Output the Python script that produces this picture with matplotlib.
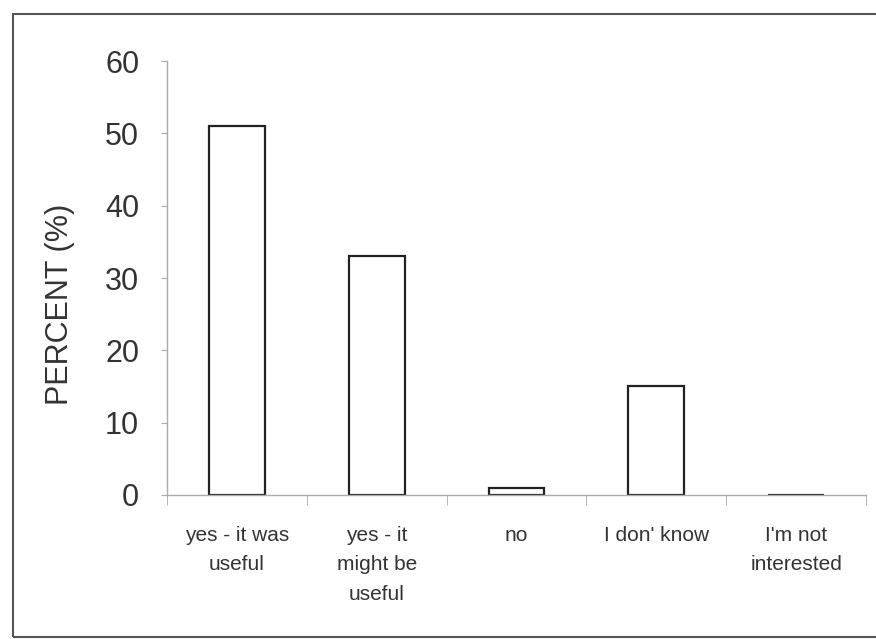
import matplotlib
matplotlib.use("Agg")
import matplotlib.pyplot as plt
import matplotlib.patches as patches
import numpy as np

# ----------------------------
# Data
# ----------------------------
categories = ["yes - it was\nuseful", "yes - it\nmight be\nuseful", "no",
              "I don' know", "I'm not\ninterested"]
percent = [51, 33, 1, 15, 0]
y_ticks = [0, 10, 20, 30, 40, 50, 60]

plt.rcParams["font.family"] = ["Liberation Sans", "DejaVu Sans"]

fig = plt.figure(figsize=(8.76, 6.39), dpi=100)
ax = fig.add_axes([0.1906, 0.2254, 0.798, 0.679])

x = np.arange(len(categories))
ax.bar(x, percent, width=0.4, color="white", edgecolor="#222222", linewidth=1.6)

ax.set_xlim(-0.5, len(categories) - 0.5)
ax.set_ylim(0, 60)
ax.set_yticks(y_ticks)
ax.set_yticklabels([str(t) for t in y_ticks], fontsize=22, color="#333333")

# category labels centred, tick marks on the category boundaries
ax.set_xticks(x)
ax.set_xticklabels(categories, fontsize=15, color="#333333", linespacing=1.7)
ax.tick_params(axis="x", which="major", length=0, pad=22)
ax.set_xticks(np.arange(-0.5, len(categories)), minor=True)
ax.tick_params(axis="x", which="minor", length=7, color="#aaaaaa", direction="out")
ax.tick_params(axis="y", length=4, color="#aaaaaa", pad=16)

for side in ["top", "right"]:
    ax.spines[side].set_visible(False)
for side in ["left", "bottom"]:
    ax.spines[side].set_color("#aaaaaa")
    ax.spines[side].set_linewidth(1.0)

ax.set_ylabel("PERCENT (%)", fontsize=22, color="#333333")
ax.yaxis.set_label_coords(-0.132, 0.44)

# border of the scanned page
fig.patches.append(patches.Rectangle((0.015, 0.003), 1.0, 0.975,
                                     transform=fig.transFigure, fill=False,
                                     edgecolor="#555555", linewidth=1.5))

fig.savefig("out.png", dpi=100)
plt.close(fig)
